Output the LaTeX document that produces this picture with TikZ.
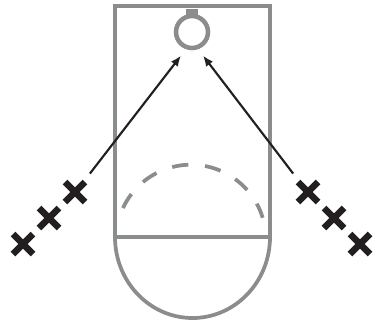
\documentclass[tikz,border=0pt]{standalone}
\definecolor{wallgray}{RGB}{138, 140, 142}
\definecolor{darkmark}{RGB}{35, 31, 32}
\usepackage{tikz}
\usetikzlibrary{arrows.meta,shapes.misc}

\begin{document}
\begin{tikzpicture}[x=0.75pt, y=-0.75pt,
    wall/.style={wallgray, line width=2.8pt},
    pointer/.style={darkmark, line width=1.6pt, -{Latex[length=8pt,width=6.5pt]}},
    xmark/.style={cross out, draw=darkmark, line width=5pt, minimum size=15pt, inner sep=0pt, outer sep=0pt}]
          \useasboundingbox (0,0) rectangle (374,322);

          % Outline
          \draw[wall] (115,237) -- (115,6) -- (270,6) -- (270,237) arc[start angle=0, end angle=180, x radius=77.5, y radius=81];
          \draw[wall] (115,237) -- (270,237);

          % Dashed arc
          \draw[wall, dash pattern=on 12.2pt off 12.6pt] (123,208) arc[start angle=-155, end angle=-17, radius=75];

          % Ring
          \fill[wallgray] (186,9) rectangle (198,18);
          \node[draw=wallgray, circle, line width=3.4pt, minimum size=24pt, inner sep=0pt, outer sep=7.5pt] (ring) at (192,32) {};

          % Left marks
          \node[xmark] (left1) at (75,192) {};
          \node[xmark] (left2) at (49,218) {};
          \node[xmark] (left3) at (23,244) {};

          % Right marks
          \node[xmark] (right1) at (308,192) {};
          \node[xmark] (right2) at (334,218) {};
          \node[xmark] (right3) at (360,244) {};

          \draw[pointer, shorten <=8pt] (left1.50) -- (ring.245);
          \draw[pointer, shorten <=8pt] (right1.130) -- (ring.295);
        \end{tikzpicture}
\end{document}
